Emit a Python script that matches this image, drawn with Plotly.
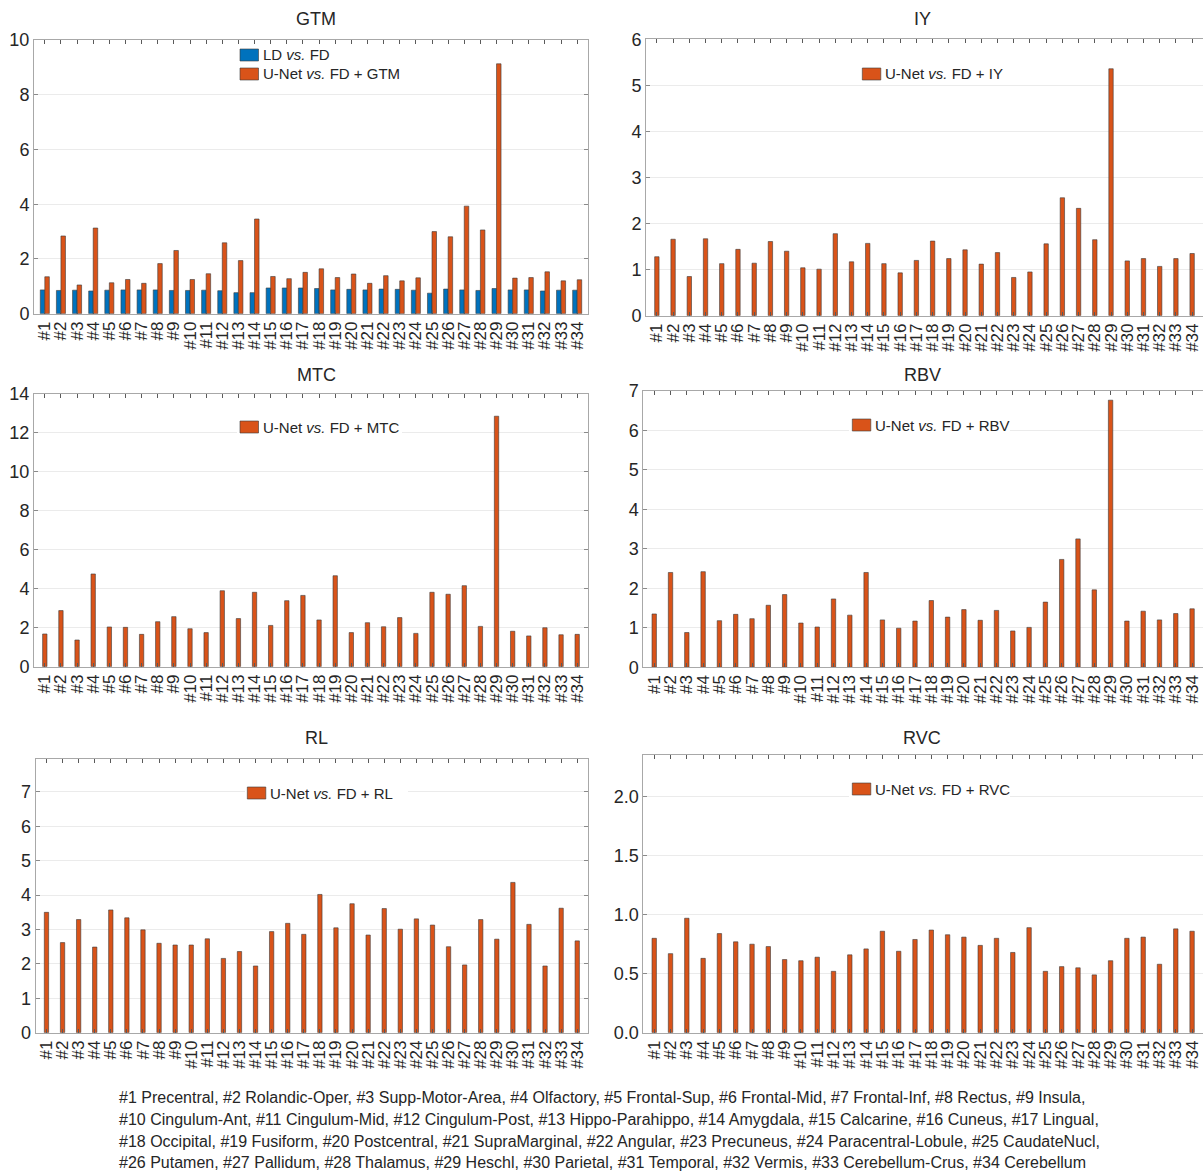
import plotly.graph_objects as go

# ---------------- data ----------------
idx = list(range(1, 35))
labels = ["#1", "#2", "#3", "#4", "#5", "#6", "#7", "#8", "#9", "#10", "#11", "#12",
          "#13", "#14", "#15", "#16", "#17", "#18", "#19", "#20", "#21", "#22", "#23",
          "#24", "#25", "#26", "#27", "#28", "#29", "#30", "#31", "#32", "#33", "#34"]

regions = ["Precentral", "Rolandic-Oper", "Supp-Motor-Area", "Olfactory", "Frontal-Sup",
           "Frontal-Mid", "Frontal-Inf", "Rectus", "Insula", "Cingulum-Ant", "Cingulum-Mid",
           "Cingulum-Post", "Hippo-Parahippo", "Amygdala", "Calcarine", "Cuneus", "Lingual",
           "Occipital", "Fusiform", "Postcentral", "SupraMarginal", "Angular", "Precuneus",
           "Paracentral-Lobule", "CaudateNucl", "Putamen", "Pallidum", "Thalamus", "Heschl",
           "Parietal", "Temporal", "Vermis", "Cerebellum-Crus", "Cerebellum"]

gtm_ld = [0.87, 0.85, 0.86, 0.83, 0.86, 0.87, 0.87, 0.87, 0.85, 0.85, 0.86, 0.84,
          0.77, 0.77, 0.94, 0.94, 0.94, 0.92, 0.87, 0.89, 0.87, 0.90, 0.89, 0.86,
          0.75, 0.90, 0.87, 0.85, 0.92, 0.87, 0.87, 0.83, 0.86, 0.86]
gtm_unet = [1.35, 2.84, 1.05, 3.13, 1.13, 1.25, 1.11, 1.83, 2.31, 1.25, 1.46, 2.59,
            1.94, 3.46, 1.36, 1.28, 1.51, 1.64, 1.32, 1.45, 1.11, 1.39, 1.20, 1.31,
            3.00, 2.81, 3.93, 3.06, 9.13, 1.30, 1.32, 1.53, 1.20, 1.24]
iy_unet = [1.28, 1.66, 0.85, 1.67, 1.13, 1.44, 1.14, 1.61, 1.40, 1.04, 1.01, 1.78,
           1.17, 1.57, 1.13, 0.93, 1.20, 1.62, 1.24, 1.43, 1.12, 1.37, 0.83, 0.95,
           1.56, 2.56, 2.33, 1.65, 5.36, 1.19, 1.24, 1.07, 1.24, 1.35]
mtc_unet = [1.68, 2.88, 1.37, 4.76, 2.04, 2.02, 1.66, 2.31, 2.57, 1.95, 1.75, 3.90,
            2.47, 3.82, 2.12, 3.39, 3.66, 2.40, 4.67, 1.75, 2.26, 2.05, 2.52, 1.71,
            3.82, 3.72, 4.16, 2.07, 12.86, 1.82, 1.58, 2.00, 1.64, 1.66]
rbv_unet = [1.35, 2.40, 0.88, 2.42, 1.18, 1.34, 1.23, 1.57, 1.84, 1.12, 1.02, 1.73,
            1.32, 2.40, 1.20, 0.99, 1.17, 1.69, 1.27, 1.46, 1.19, 1.44, 0.92, 1.01,
            1.65, 2.73, 3.25, 1.96, 6.76, 1.17, 1.42, 1.20, 1.36, 1.48]
rl_unet = [3.50, 2.62, 3.29, 2.49, 3.57, 3.34, 2.99, 2.60, 2.55, 2.55, 2.73, 2.16,
           2.36, 1.94, 2.94, 3.18, 2.86, 4.02, 3.05, 3.75, 2.84, 3.61, 3.01, 3.31,
           3.13, 2.50, 1.97, 3.29, 2.72, 4.37, 3.15, 1.94, 3.62, 2.67]
rvc_unet = [0.80, 0.67, 0.97, 0.63, 0.84, 0.77, 0.75, 0.73, 0.62, 0.61, 0.64, 0.52,
            0.66, 0.71, 0.86, 0.69, 0.79, 0.87, 0.83, 0.81, 0.74, 0.80, 0.68, 0.89,
            0.52, 0.56, 0.55, 0.49, 0.61, 0.80, 0.81, 0.58, 0.88, 0.86]

# ---------------- styling ----------------
W, H = 1203, 1172
BLUE = "#0072BD"
ORANGE = "#D95319"
EDGE = "#3a3a3a"
TEXT = "#262626"
AXIS = "#a8a8a8"
GRID = "#ebebeb"
FONT = "Liberation Sans, Arial, Helvetica, sans-serif"


def fx(x):
    return x / W


def fy(y):
    return 1 - y / H


# pixel boxes (left, top, right, bottom) of each axes, y limits and legend layout
panels = [
    dict(name="GTM", series=[(gtm_ld, BLUE, "LD <i>vs.</i> FD"), (gtm_unet, ORANGE, "U-Net <i>vs.</i> FD + GTM")],
         box=(34, 40, 588, 313.7), yrange=[0, 10], ticks=[0, 2, 4, 6, 8, 10], fmt="d",
         title=(316, 19), leg_box=(237, 45, 410, 84), leg_x=240, leg_y=[55, 74], right=False),
    dict(name="IY", series=[(iy_unet, ORANGE, "U-Net <i>vs.</i> FD + IY")],
         box=(646, 39.3, 1203, 315.7), yrange=[0, 6], ticks=[0, 1, 2, 3, 4, 5, 6], fmt="d",
         title=(922, 19), leg_box=(859, 64, 1015, 84), leg_x=862.3, leg_y=[74], right=True),
    dict(name="MTC", series=[(mtc_unet, ORANGE, "U-Net <i>vs.</i> FD + MTC")],
         box=(34, 394, 588, 666.7), yrange=[0, 14], ticks=[0, 2, 4, 6, 8, 10, 12, 14], fmt="d",
         title=(316, 375), leg_box=(237, 416, 402, 438), leg_x=240, leg_y=[427], right=False),
    dict(name="RBV", series=[(rbv_unet, ORANGE, "U-Net <i>vs.</i> FD + RBV")],
         box=(643.3, 390.7, 1203, 667.3), yrange=[0, 7], ticks=[0, 1, 2, 3, 4, 5, 6, 7], fmt="d",
         title=(922, 375), leg_box=(849, 414, 1010, 436), leg_x=852.3, leg_y=[425], right=True),
    dict(name="RL", series=[(rl_unet, ORANGE, "U-Net <i>vs.</i> FD + RL")],
         box=(35.7, 759.3, 588, 1032.7), yrange=[0, 7.95], ticks=[0, 1, 2, 3, 4, 5, 6, 7], fmt="d",
         title=(316, 738), leg_box=(245, 782, 408, 804), leg_x=247.3, leg_y=[793], right=False),
    dict(name="RVC", series=[(rvc_unet, ORANGE, "U-Net <i>vs.</i> FD + RVC")],
         box=(643.3, 754.7, 1203, 1032.7), yrange=[0, 2.356], ticks=[0, 0.5, 1.0, 1.5, 2.0], fmt=".1f",
         title=(922, 738), leg_box=(849, 779, 1010, 800), leg_x=852.3, leg_y=[789], right=True),
]

fig = go.Figure()
layout = dict(
    template="none",
    width=W, height=H, autosize=False,
    margin=dict(l=0, r=0, t=0, b=0, pad=0, autoexpand=False),
    paper_bgcolor="white", plot_bgcolor="white",
    barmode="overlay", showlegend=False,
    font=dict(family=FONT, color=TEXT),
)
shapes = []
annotations = []

for i, p in enumerate(panels):
    sfx = "" if i == 0 else str(i + 1)
    xname, yname = "x" + sfx, "y" + sfx
    x0, y0, x1, y1 = p["box"]

    n = len(p["series"])
    for k, (vals, color, _) in enumerate(p["series"]):
        if n == 2:
            width, offset = 0.28, (-0.28 if k == 0 else 0.0)
        else:
            width, offset = 0.27, -0.135
        fig.add_trace(go.Bar(
            x=idx, y=vals, width=width, offset=offset,
            marker=dict(color=color, line=dict(color=EDGE, width=0.6)),
            xaxis=xname, yaxis=yname, hoverinfo="x+y",
        ))

    layout["xaxis" + sfx] = dict(
        domain=[fx(x0), fx(x1)], anchor=yname, range=[0.33, 34.67], automargin=False,
        tickmode="array", tickvals=idx, ticktext=labels, tickangle=-90,
        ticks="inside", ticklen=4, tickcolor="#5a5a5a", tickwidth=1,
        showline=True, linecolor=AXIS, linewidth=1, mirror="ticks",
        showgrid=False, zeroline=False,
        tickfont=dict(size=17, color=TEXT, family=FONT),
    )
    layout["yaxis" + sfx] = dict(
        domain=[fy(y1), fy(y0)], anchor=xname, range=p["yrange"], automargin=False,
        tickmode="array", tickvals=p["ticks"], tickformat=p["fmt"],
        ticks="inside", ticklen=4, tickcolor="#8a8a8a", tickwidth=1,
        showline=True, linecolor=AXIS, linewidth=1,
        mirror=False if p["right"] else "ticks",
        showgrid=True, gridcolor=GRID, gridwidth=1, zeroline=False,
        tickfont=dict(size=18, color=TEXT, family=FONT),
    )

    # panel title
    tx, ty = p["title"]
    annotations.append(dict(
        x=fx(tx), y=fy(ty), xref="paper", yref="paper", text=p["name"],
        showarrow=False, xanchor="center", yanchor="middle",
        font=dict(size=18, color=TEXT, family=FONT),
    ))

    # legend: white backing box, colour swatches and labels
    bx0, by0, bx1, by1 = p["leg_box"]
    shapes.append(dict(type="rect", xref="paper", yref="paper", layer="above",
                       x0=fx(bx0), x1=fx(bx1), y0=fy(by1), y1=fy(by0),
                       fillcolor="white", line=dict(width=0)))
    for (vals, color, text), cy in zip(p["series"], p["leg_y"]):
        lx = p["leg_x"]
        shapes.append(dict(type="rect", xref="paper", yref="paper", layer="above",
                           x0=fx(lx), x1=fx(lx + 18.5), y0=fy(cy + 6), y1=fy(cy - 6),
                           fillcolor=color, line=dict(color=EDGE, width=0.6)))
        annotations.append(dict(
            x=fx(lx + 21), y=fy(cy), xref="paper", yref="paper", text=text,
            showarrow=False, xanchor="left", yanchor="middle",
            font=dict(size=15, color=TEXT, family=FONT),
        ))

# region key under the panels
groups = [(0, 9), (9, 17), (17, 25), (25, 34)]
line_y = [1097, 1119.5, 1141.5, 1162.5]
for gi, ((a, b), ly) in enumerate(zip(groups, line_y)):
    text = ", ".join(f"{labels[j]} {regions[j]}" for j in range(a, b))
    if gi < len(groups) - 1:
        text += ","
    annotations.append(dict(
        x=fx(117), y=fy(ly), xref="paper", yref="paper", text=text,
        showarrow=False, xanchor="left", yanchor="middle",
        font=dict(size=16, color=TEXT, family=FONT),
    ))

layout["shapes"] = shapes
layout["annotations"] = annotations
fig.update_layout(**layout)

fig.write_html("out.html")
